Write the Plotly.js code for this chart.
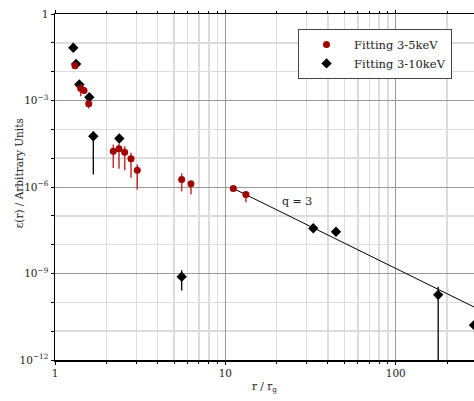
<!DOCTYPE html>
<html>
<head>
<meta charset="utf-8">
<script src="https://cdn.plot.ly/plotly-3.0.1.min.js"></script>
<style>html,body{margin:0;padding:0;background:#fff;}#chart{width:474px;height:401px;}</style>
</head>
<body>
<div id="chart"></div>
<script>
// Fitting 3-5keV (red circles)
const r35 = [1.31, 1.416, 1.48, 1.577, 2.198, 2.375, 2.565, 2.793, 3.04, 5.54, 6.28, 11.13, 13.2];
const eps35 = [1.62e-2, 2.61e-3, 2.22e-3, 7.67e-4, 1.74e-5, 2.11e-5, 1.61e-5, 9.48e-6, 3.82e-6, 1.82e-6, 1.29e-6, 8.85e-7, 5.50e-7];
const eps35Hi = [1.8e-2, 3.59e-3, 2.63e-3, 1.0e-3, 2.97e-5, 3.24e-5, 2.60e-5, 1.53e-5, 6.03e-6, 2.95e-6, 1.58e-6, 9.5e-7, 6.76e-7];
const eps35Lo = [1.5e-2, 1.41e-3, 1.78e-3, 5.25e-4, 4.62e-6, 4.27e-6, 3.82e-6, 2.09e-6, 8.13e-7, 7.08e-7, 5.50e-7, 8.2e-7, 2.95e-7];

// Fitting 3-10keV (black diamonds)
const r310 = [1.28, 1.33, 1.389, 1.59, 1.678, 2.385, 5.54, 32.8, 44.6, 177.5, 288];
const eps310 = [6.73e-2, 1.85e-2, 3.59e-3, 1.30e-3, 5.75e-5, 4.81e-5, 7.67e-10, 3.72e-8, 2.79e-8, 1.82e-10, 1.62e-11];
const eps310Hi = [6.73e-2, 1.85e-2, 3.59e-3, 1.30e-3, 8.61e-5, 4.81e-5, 1.29e-9, 3.72e-8, 2.79e-8, 3.47e-10, 1.62e-11];
const eps310Lo = [6.73e-2, 1.85e-2, 3.59e-3, 1.30e-3, 2.71e-6, 4.81e-5, 2.57e-10, 3.72e-8, 2.79e-8, 1e-14, 1.62e-11];

// Power-law q = 3 line
const fitR = [11.13, 288];
const fitEps = [8.9e-7, 6.9e-11];

const yTickVals = [1e-12, 1e-9, 1e-6, 1e-3, 1];
const yTickText = ['10<sup>−12</sup>', '10<sup>−9</sup>', '10<sup>−6</sup>', '10<sup>−3</sup>', '1'];
const yMinorVals = [1e-11, 1e-10, 1e-8, 1e-7, 1e-5, 1e-4, 1e-2, 1e-1];
const xTickVals = [1, 10, 100];
const xTickText = ['1', '10', '100'];
const xMinorVals = [2, 3, 4, 5, 6, 7, 8, 9, 20, 30, 40, 50, 60, 70, 80, 90, 200];

const plus = (v, hi) => hi.map((h, i) => h - v[i]);
const minus = (v, lo) => lo.map((l, i) => v[i] - l);

const FONT = 'DejaVu Serif, Liberation Serif, serif';
const RED = '#a00000';

const traces = [
  {
    x: fitR, y: fitEps, mode: 'lines', type: 'scatter', showlegend: false,
    line: {color: '#000', width: 1}, hoverinfo: 'skip'
  },
  {
    x: r310, y: eps310, mode: 'markers', type: 'scatter', name: 'Fitting 3-10keV',
    marker: {symbol: 'diamond', size: 8, color: '#000'},
    error_y: {type: 'data', symmetric: false, array: plus(eps310, eps310Hi), arrayminus: minus(eps310, eps310Lo),
              color: '#000', thickness: 1.3, width: 0}
  },
  {
    x: r35, y: eps35, mode: 'markers', type: 'scatter', name: 'Fitting 3-5keV',
    marker: {symbol: 'circle', size: 7, color: RED},
    error_y: {type: 'data', symmetric: false, array: plus(eps35, eps35Hi), arrayminus: minus(eps35, eps35Lo),
              color: '#c03030', thickness: 1.5, width: 0}
  }
];

const layout = {
  width: 474, height: 401,
  margin: {l: 55, r: 0, t: 14, b: 41},
  paper_bgcolor: '#fff', plot_bgcolor: '#fff',
  font: {family: FONT, size: 10, color: '#222'},
  showlegend: true,
  legend: {
    x: 0.58, y: 0.957, xanchor: 'left', yanchor: 'top',
    bordercolor: '#444', borderwidth: 1, bgcolor: '#fff',
    traceorder: 'reversed', itemwidth: 45,
    font: {family: FONT, size: 11.5, color: '#222'},
    tracegroupgap: 0
  },
  xaxis: {
    type: 'log', range: [0, Math.log10(288)],
    tickmode: 'array', tickvals: xTickVals, ticktext: xTickText,
    ticks: 'outside', ticklen: 3, tickcolor: '#000',
    showgrid: true, gridcolor: '#999', gridwidth: 1,
    minor: {tickmode: 'array', tickvals: xMinorVals, showgrid: true, gridcolor: '#dcdcdc', gridwidth: 1.5, ticks: 'outside', ticklen: 2, tickcolor: '#000'},
    showline: true, linecolor: '#000', linewidth: 1.5, mirror: 'ticks',
    zeroline: false,
    tickfont: {family: FONT, size: 10.5, color: '#222'},
    title: {text: 'r / r<sub>g</sub>', font: {family: FONT, size: 10.5, color: '#222'}, standoff: 4}
  },
  yaxis: {
    type: 'log', range: [-12, 0],
    tickmode: 'array', tickvals: yTickVals, ticktext: yTickText,
    ticks: 'outside', ticklen: 3, tickcolor: '#000',
    showgrid: true, gridcolor: '#999', gridwidth: 1,
    minor: {tickmode: 'array', tickvals: yMinorVals, showgrid: true, gridcolor: '#dcdcdc', gridwidth: 1.5, ticks: 'outside', ticklen: 3, tickcolor: '#000'},
    showline: true, linecolor: '#000', linewidth: 1.5, mirror: 'ticks',
    zeroline: false,
    tickfont: {family: FONT, size: 10.5, color: '#222'}
  },
  annotations: [
    {
      x: Math.log10(26.3), y: -6.5, xref: 'x', yref: 'y', text: 'q = 3', showarrow: false,
      font: {family: FONT, size: 11, color: '#222'}
    },
    {
      x: -0.086, y: 0.54, xref: 'paper', yref: 'paper', text: 'ε(r) / Arbitrary Units', showarrow: false,
      textangle: -90, xanchor: 'center', yanchor: 'middle',
      font: {family: FONT, size: 10.5, color: '#222'}
    }
  ]
};

Plotly.newPlot('chart', traces, layout, {displayModeBar: false, staticPlot: true});
</script>
</body>
</html>
